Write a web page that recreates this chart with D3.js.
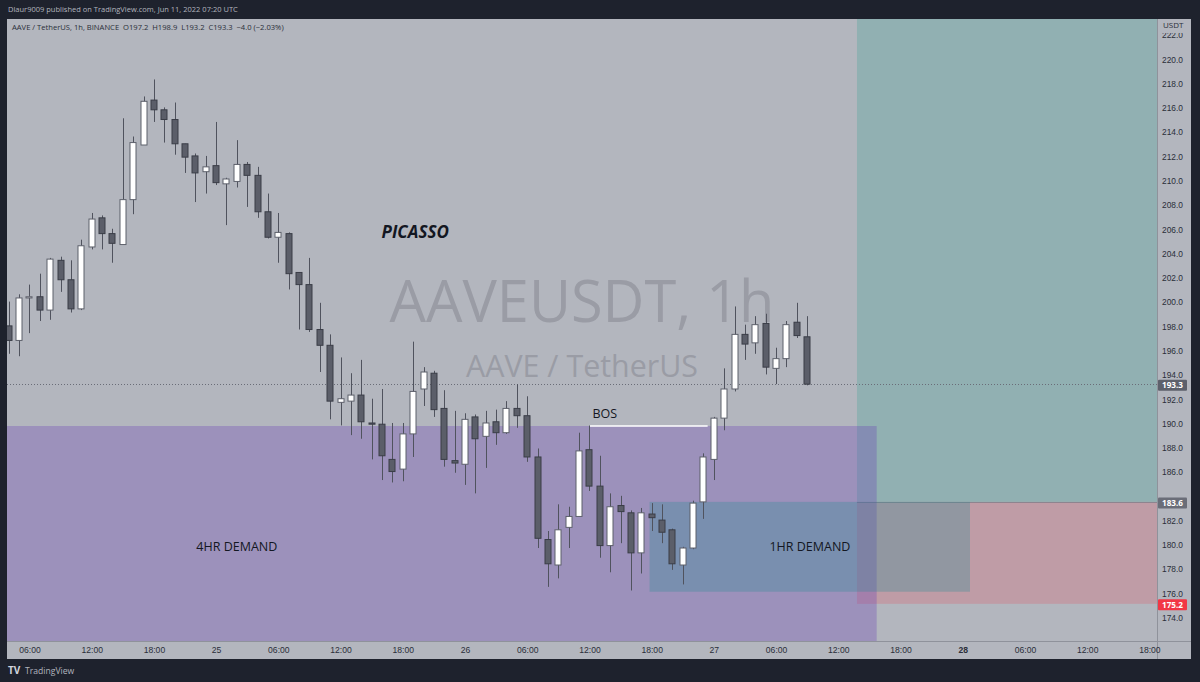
<!DOCTYPE html>
<html><head><meta charset="utf-8">
<script src="https://cdn.jsdelivr.net/npm/d3@7"></script>
<style>
html,body{margin:0;padding:0;background:#1e222d;}
svg{display:block;font-family:"Open Sans","Noto Sans",Roboto,sans-serif;}
</style>
</head><body>
<svg id="c" width="1200" height="682"></svg>
<script>
// ---------------- DATA ----------------
const firstCandle = "2022-05-24T04:00:00Z";
const lastCandleEnd = "2022-05-27T10:00:00Z";
const opens  = [198.1,196.9,200.4,200.5,199.4,203.5,201.9,199.5,204.6,207.0,205.7,204.8,208.5,213.0,216.7,215.9,215.1,213.1,212.1,210.8,211.3,209.8,210.0,211.4,210.5,207.5,205.4,205.7,202.5,201.5,197.8,196.5,191.8,191.9,192.4,190.1,190.0,187.1,186.3,189.2,192.9,194.2,191.3,187.0,186.7,190.6,189.0,190.2,189.3,191.3,190.7,187.3,180.5,178.4,181.5,182.4,187.9,184.9,180.0,183.3,182.7,179.4,182.6,182.1,181.3,178.4,179.8,183.6,187.1,190.5,192.9,197.4,196.7,198.3,194.6,195.4,198.4,197.2];
const highs  = [200.1,200.7,201.5,202.4,203.7,203.8,203.5,205.2,207.4,207.2,206.1,215.2,213.7,217.0,218.4,216.1,216.5,213.1,212.3,212.1,214.9,210.3,213.4,211.6,211.2,209.0,207.4,205.8,202.5,203.7,200.0,197.4,195.5,194.2,195.3,192.1,192.9,190.1,190.1,196.8,194.7,194.4,192.8,191.1,190.9,190.8,191.1,191.2,191.9,193.3,192.3,188.0,181.2,183.4,183.2,189.3,189.9,187.4,184.3,184.1,182.9,183.1,183.5,183.4,181.4,179.9,183.7,187.6,190.6,194.6,199.7,198.2,198.9,199.1,196.3,198.5,200.0,198.9];
const lows   = [195.8,195.6,197.5,198.5,198.6,200.9,199.2,199.4,204.4,204.4,203.3,204.8,207.3,213.0,214.9,213.2,212.2,210.7,208.3,209.0,209.7,206.4,209.5,207.9,207.0,205.3,203.3,201.1,197.8,197.6,194.3,190.4,189.9,189.1,188.8,187.1,185.4,185.2,185.3,187.3,191.5,190.6,186.5,186.0,185.0,184.3,186.4,188.3,189.2,189.7,186.9,179.8,176.6,177.3,179.8,182.4,184.5,179.0,177.8,180.2,176.3,177.7,181.2,180.2,178.0,176.8,179.7,182.2,185.4,189.5,192.7,195.3,195.8,194.1,193.3,194.7,197.1,193.2];
const closes = [196.9,200.4,200.5,199.4,203.6,201.9,199.5,204.7,206.9,205.7,204.9,208.5,213.2,216.6,215.9,215.1,213.1,212.0,210.7,211.2,209.9,210.2,211.4,210.5,207.5,205.4,205.8,202.4,201.5,197.8,196.5,191.9,192.1,192.4,190.2,190.0,187.4,186.1,189.2,192.7,194.3,191.2,187.1,186.8,190.4,188.8,190.1,189.3,191.3,190.7,187.3,180.6,178.5,181.3,182.4,187.8,184.9,180.0,183.2,182.8,179.4,182.7,182.3,181.1,178.5,179.8,183.5,187.3,190.5,192.9,197.4,196.6,198.2,194.7,195.4,198.2,197.3,193.3];

const yTicks = [174,176,178,180,182,184,186,188,190,192,194,196,198,200,202,204,206,208,210,212,214,216,218,220,222];

// zones
const zoneLabels = ["4HR DEMAND","1HR DEMAND"];
const zoneStart  = ["2022-05-24T02:00:00Z","2022-05-26T17:48:00Z"];
const zoneEnd    = ["2022-05-27T15:42:00Z","2022-05-28T00:42:00Z"];
const zoneLow    = [170.0,176.2];
const zoneHigh   = [189.85,183.6];
const zoneLabelTime = ["2022-05-25T02:00:00Z","2022-05-27T09:16:00Z"];
const zoneLabelPrice = [179.55,179.55];

// long position tool
const posStart = "2022-05-27T13:48:00Z";
const posEnd   = "2022-05-29T06:00:00Z";
const posEntry = 183.6;
const posTarget = 226.0;
const posStop  = 175.2;

// break of structure
const bosStart = "2022-05-26T12:00:00Z";
const bosEnd   = "2022-05-26T23:24:00Z";
const bosPrice = 189.85;
const lastPrice = 193.3;

// annotation
const noteText = "PICASSO";
const notePos = ["2022-05-25T19:12:00Z", 205.3];

// ---------------- LAYOUT ----------------
const svg = d3.select("#c");
const W = 1200, H = 682;
const L = 7, R = 1157, T = 19, B = 641, paneR = 1191, axisB = 659;
const bg = "#b3b6be";

const candles = d3.utcHour.range(new Date(firstCandle), new Date(lastCandleEnd)).map((d,i)=>({
  t:d, o:opens[i], h:highs[i], l:lows[i], c:closes[i]}));

const x = d3.scaleUtc()
  .domain([new Date("2022-05-24T03:50:00Z"), new Date("2022-05-28T18:44:00Z")])
  .range([L, R]);
const y = d3.scaleLinear().domain([172.14, 223.38]).range([B, T]);

// background
svg.append("rect").attr("width",W).attr("height",H).attr("fill","#1e222d");
svg.append("rect").attr("x",L).attr("y",T).attr("width",paneR-L).attr("height",axisB-T).attr("fill",bg);

// top text
svg.append("text").attr("x",8).attr("y",12).attr("font-size",7.5).attr("fill","#b2b5be")
  .text("Dlaur9009 published on TradingView.com, Jun 11, 2022 07:20 UTC");

const defs = svg.append("defs");
defs.append("clipPath").attr("id","plot").append("rect").attr("x",L).attr("y",T).attr("width",R-L).attr("height",B-T);
const plot = svg.append("g").attr("clip-path","url(#plot)");

// watermark
const cx = (L+R)/2;
plot.append("text").attr("x",cx).attr("y",322).attr("text-anchor","middle")
  .attr("font-size",57.7).attr("fill","#9a9ca5").text("AAVEUSDT, 1h");
plot.append("text").attr("x",cx).attr("y",377).attr("text-anchor","middle")
  .attr("font-size",30.4).attr("fill","#9a9ca5").text("AAVE / TetherUS");

// long position boxes
plot.append("rect").attr("x",x(new Date(posStart))).attr("width",x(new Date(posEnd))-x(new Date(posStart)))
  .attr("y",y(posTarget)).attr("height",y(posEntry)-y(posTarget)).attr("fill","rgba(8,153,129,0.2)");
plot.append("rect").attr("x",x(new Date(posStart))).attr("width",x(new Date(posEnd))-x(new Date(posStart)))
  .attr("y",y(posEntry)).attr("height",y(posStop)-y(posEntry)).attr("fill","rgba(242,54,69,0.2)");
plot.append("line").attr("x1",x(new Date(posStart))).attr("x2",x(new Date(posEnd)))
  .attr("y1",Math.round(y(posEntry))+0.5).attr("y2",Math.round(y(posEntry))+0.5).attr("stroke","rgba(120,123,134,0.7)");

// zones
const zoneFill = ["rgba(103,58,183,0.3)","rgba(40,140,150,0.3)"];
zoneLabels.forEach((lab,i)=>{
  plot.append("rect").attr("x",x(new Date(zoneStart[i]))).attr("width",x(new Date(zoneEnd[i]))-x(new Date(zoneStart[i])))
    .attr("y",y(zoneHigh[i])).attr("height",y(zoneLow[i])-y(zoneHigh[i])).attr("fill",zoneFill[i]);
});

// BOS
plot.append("line").attr("x1",x(new Date(bosStart))).attr("x2",x(new Date(bosEnd)))
  .attr("y1",y(bosPrice)).attr("y2",y(bosPrice)).attr("stroke","#ffffff").attr("stroke-width",1.5);
plot.append("text").attr("x",(x(new Date(bosStart))+x(new Date(bosEnd)))/2 - 56).attr("y",y(bosPrice)-8)
  .attr("font-size",12.5).attr("fill","#131722").text("BOS");

// last price dotted line
plot.append("line").attr("x1",L).attr("x2",R).attr("y1",Math.round(y(lastPrice))+0.5).attr("y2",Math.round(y(lastPrice))+0.5)
  .attr("stroke","#6a6d78").attr("stroke-dasharray","1,2").attr("stroke-width",1);

// candles
const bw = 7;
const cg = plot.append("g");
cg.selectAll("line.w").data(candles).join("line")
  .attr("x1",d=>Math.round(x(d.t))+0.5).attr("x2",d=>Math.round(x(d.t))+0.5)
  .attr("y1",d=>y(d.h)).attr("y2",d=>y(d.l)).attr("stroke","#50535e").attr("stroke-width",1);
cg.selectAll("rect.b").data(candles).join("rect")
  .attr("x",d=>Math.round(x(d.t))-bw/2+0.5).attr("width",bw-1)
  .attr("y",d=>y(Math.max(d.o,d.c)))
  .attr("height",d=>Math.max(1,Math.abs(y(d.o)-y(d.c))))
  .attr("fill",d=>d.c>=d.o?"#ffffff":"#5b5e69")
  .attr("stroke",d=>d.c>=d.o?"#5d606b":"#3a3d47").attr("stroke-width",1);

// text labels
plot.append("text").attr("x",x(new Date(notePos[0]))).attr("y",y(notePos[1])).attr("text-anchor","middle")
  .attr("font-size",17).attr("font-weight","bold").attr("font-style","italic").attr("fill","#131722").text(noteText);
zoneLabels.forEach((lab,i)=>{
  plot.append("text").attr("x",x(new Date(zoneLabelTime[i]))).attr("y",y(zoneLabelPrice[i])).attr("text-anchor","middle")
    .attr("font-size",12.5).attr("fill","#131722").text(lab);
});

// legend header
svg.append("text").attr("x",12).attr("y",30).attr("font-size",7.6).attr("fill","#2a2e39").attr("xml:space","preserve")
  .text("AAVE / TetherUS, 1h, BINANCE  O197.2  H198.9  L193.2  C193.3  \u22124.0 (\u22122.03%)");

// separators
svg.append("line").attr("x1",L).attr("x2",paneR).attr("y1",B+0.5).attr("y2",B+0.5).attr("stroke","#8f929b");
svg.append("line").attr("x1",R+0.5).attr("x2",R+0.5).attr("y1",T).attr("y2",axisB).attr("stroke","#8f929b");

// price tags
const tagPrices = [lastPrice, posEntry, posStop];
const tagColors = ["#5d606b","#6a6d78","#f23645"];

// y axis (labels fully hidden by a tag are not drawn)
const hidden = v => tagPrices.some(p => Math.abs(y(p)-y(v)) < 5);
const yAxis = svg.append("g").attr("transform",`translate(${R},0)`)
  .call(d3.axisRight(y).tickValues(yTicks.filter(v=>!hidden(v))).tickFormat(d3.format(".1f")).tickSize(0).tickPadding(5));
yAxis.select(".domain").remove();
yAxis.selectAll("text").attr("font-size",8.4).attr("fill","#2a2e39").attr("dy","0.25em");
// USDT label
svg.append("rect").attr("x",R+1).attr("y",T).attr("width",paneR-R-1).attr("height",14).attr("fill",bg);
svg.append("text").attr("x",R+6).attr("y",T+9).attr("font-size",8).attr("fill","#2a2e39").text("USDT");

tagPrices.forEach((v,i)=>{
  const yy = y(v)+1;
  svg.append("rect").attr("x",R+1).attr("y",yy-5.5).attr("width",29).attr("height",11).attr("rx",1).attr("fill",tagColors[i]);
  svg.append("text").attr("x",R+15.5).attr("y",yy+3).attr("text-anchor","middle").attr("font-size",8.2)
    .attr("font-weight","bold").attr("fill","#ffffff").text(v.toFixed(1));
});

// x axis
const fmt = d3.utcFormat("%H:%M");
const xAxis = svg.append("g").attr("transform",`translate(0,${B})`)
  .call(d3.axisBottom(x).ticks(d3.utcHour.every(6)).tickSize(0).tickPadding(6)
    .tickFormat(d=>d.getUTCHours()===0 ? String(d.getUTCDate()) : fmt(d)));
xAxis.select(".domain").remove();
xAxis.selectAll("text").attr("font-size",8.6).attr("fill","#2a2e39")
  .attr("font-weight",d=>(d.getUTCHours()===0 && d.getUTCDate()===28)?"bold":"normal");

// TradingView logo
svg.append("text").attr("x",8).attr("y",674).attr("font-size",10).attr("font-weight","bold").attr("fill","#d1d4dc").text("TV");
svg.append("text").attr("x",25).attr("y",674).attr("font-size",8.6).attr("fill","#b2b5be").text("TradingView");
</script>
</body></html>
